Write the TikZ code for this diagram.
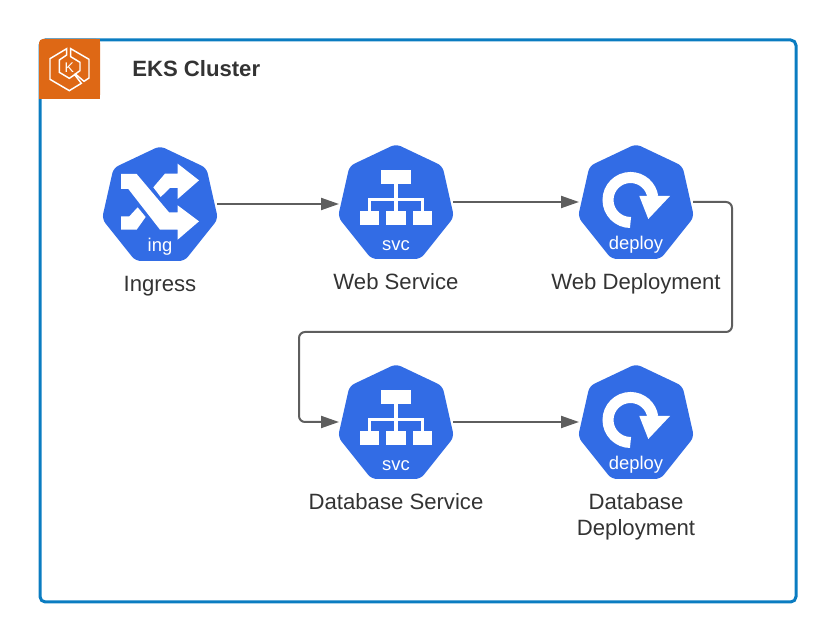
\documentclass[tikz,border=0pt]{standalone}
\usepackage{fontspec}
\setmainfont{Liberation Sans}
\usetikzlibrary{arrows.meta}
\definecolor{hexblue}{HTML}{326CE5}
\definecolor{frameblue}{HTML}{0A7CC1}
\definecolor{logoorange}{HTML}{DE6815}
\definecolor{linegray}{HTML}{5E5E5E}
\definecolor{textgray}{HTML}{333333}
\tikzset{
  x=0.75pt,y=0.75pt,
  iconbox/.style={minimum size=85.5pt,inner sep=0pt,outer sep=0pt},
  caption/.style={font=\fontsize{16.6}{19.5}\selectfont,text=textgray,align=center,inner sep=0pt},
  icontext/.style={font=\fontsize{13.8}{16}\selectfont,text=white,inner sep=0pt},
  conn/.style={draw=linegray,line width=1.5pt,rounded corners=4.5pt,-{Triangle[length=13.5pt,width=9pt]}},
  heptagon/.pic={
    \fill[hexblue,rounded corners=4pt] (0,1) -- (46.5,-21) -- (58,-72) -- (24.5,-114) -- (-24.5,-114) -- (-58,-72) -- (-46.5,-21) -- cycle;
  },
  svcicon/.pic={
    \pic {heptagon};
    \fill[white] (-15,-25) rectangle (15,-39);
    \draw[white,line width=2.3pt] (0,-39) -- (0,-66);
    \draw[white,line width=2.3pt] (-26.5,-66) -- (-26.5,-54.5) -- (26.5,-54.5) -- (26.5,-66);
    \fill[white] (-36,-66) rectangle (-17,-80);
    \fill[white] (-10,-66) rectangle (10,-80);
    \fill[white] (17,-66) rectangle (36,-80);
    \node[icontext] at (0,-101) {svc};
  },
  deployicon/.pic={
    \pic {heptagon};
    \draw[white,line width=8.25pt] (-5.5,-77.5) arc[start angle=270,end angle=8,radius=22.5] ;
    \fill[white] (3.3,-51) -- (34,-51) -- (12.3,-74) -- cycle;
    \node[icontext] at (0,-100) {deploy};
  },
  ingicon/.pic={
    \pic {heptagon};
    \begin{scope}[x=0.25pt,y=-0.25pt,shift={(-195,-22)}]
      \fill[white] (78,103) -- (125,103) -- (222,218) -- (248,218) -- (248,197) -- (312,245) -- (248,300) -- (248,270) -- (195,270) -- (100,148) -- (78,148) -- cycle;
      \fill[white] (175,143) -- (210,102) -- (248,102) -- (248,72) -- (312,122) -- (248,178) -- (248,145) -- (225,145) -- (197,172) -- cycle;
      \fill[white] (78,230) -- (103,230) -- (128,203) -- (152,232) -- (125,270) -- (78,270) -- cycle;
    \end{scope}
    \node[icontext] at (0,-100) {ing};
  }
}
\begin{document}
\begin{tikzpicture}
\useasboundingbox (0,0) rectangle (836,642);
\draw[frameblue,line width=2.25pt,rounded corners=4pt] (40,602) rectangle (796,40);
\fill[logoorange,rounded corners=3pt] (39,603) -- (39,543) -- (100,543) -- (100,603) -- cycle;
\fill[logoorange] (39,543) rectangle (100,560);
\fill[logoorange] (60,560) rectangle (100,603);
\begin{scope}[x=0.25pt,y=-0.25pt,shift={(120,-1806)}]
\draw[white,line width=1.1pt,line join=miter] (80,26) -- (30,56) -- (30,118) -- (88,152) -- (124,130) -- (104,104) -- (88,115) -- (58,97) -- (58,60) -- (80,45) -- cycle;
\draw[white,line width=1.1pt,line join=miter] (92,26) -- (147,58) -- (147,114) -- (132,124) -- (106,102) -- (120,92) -- (120,67) -- (92,50) -- cycle;
\node[text=white,inner sep=0pt,font=\fontsize{10.5}{12}\selectfont] at (88,84) {K};
\end{scope}
\node[font=\fontsize{16.6}{20}\selectfont\bfseries,text=textgray,anchor=west,inner sep=0pt] (title) at (132,573) {EKS Cluster};

\node[iconbox] (ing) at (160,438) {};
\node[iconbox] (websvc) at (396,440) {};
\node[iconbox] (webdep) at (636,440) {};
\node[iconbox] (dbsvc) at (396,220) {};
\node[iconbox] (dbdep) at (636,220) {};
\pic at (ing.north) {ingicon};
\pic at (websvc.north) {svcicon};
\pic at (webdep.north) {deployicon};
\pic at (dbsvc.north) {svcicon};
\pic at (dbdep.north) {deployicon};

\node[caption] (ingl) at (160,356) {Ingress};
\node[caption] (websvcl) at (396,360) {Web Service};
\node[caption] (webdepl) at (636,358) {Web Deployment};
\node[caption] (dbsvcl) at (396,140) {Database Service};
\node[caption] (dbdepl) at (636,125.5) {Database\\Deployment};

\draw[conn] (ing.east) -- (ing.east -| websvc.west);
\draw[conn] (websvc.east) -- (webdep.west);
\draw[conn] (dbsvc.east) -- (dbdep.west);
\draw[conn] (webdep.east) -- (732,440) -- (732,310) -- (299,310) -- (299,220) -- (dbsvc.west);
\end{tikzpicture}
\end{document}
